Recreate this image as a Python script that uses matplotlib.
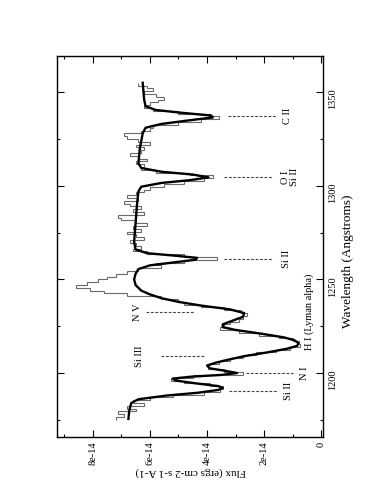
import numpy as np
import matplotlib
matplotlib.use("Agg")
import matplotlib.pyplot as plt
from matplotlib.ticker import MultipleLocator

plt.rcParams["font.family"] = ["Liberation Serif", "DejaVu Serif"]

SCALE = 1e-14

# smooth model fit (wavelength in Angstroms, flux in 1e-14 erg/cm2/s/A)
model_wave = [1175.5, 1180, 1184, 1186, 1188, 1189.5, 1191, 1192, 1193, 1194.5,
              1196, 1197, 1198, 1199, 1200, 1201, 1202.5, 1204, 1205.5, 1207,
              1209, 1211, 1213, 1214.5, 1216, 1217.5, 1219, 1221, 1223, 1224.5,
              1226, 1228, 1230, 1232, 1234, 1236, 1238, 1240, 1242, 1244,
              1247, 1250, 1253, 1255.5, 1257.5, 1259, 1260.5, 1261.5, 1262.5, 1264,
              1266, 1270, 1280, 1290, 1297, 1299.5, 1301.5, 1303, 1304.5, 1306,
              1307.5, 1309.5, 1312, 1320, 1328, 1331, 1333, 1335, 1336.5, 1337.5,
              1339, 1340.5, 1342.5, 1346, 1355]
model_flux = [6.75, 6.72, 6.65, 6.4, 5.4, 4.3, 3.6, 3.45, 3.6, 4.4,
              5.1, 5.2, 4.6, 3.5, 2.95, 3.3, 3.9, 4.0, 3.7, 3.3,
              2.7, 1.9, 1.2, 0.85, 0.8, 0.95, 1.3, 2.1, 3.0, 3.45,
              3.45, 3.1, 2.75, 2.7, 3.2, 4.2, 5.0, 5.6, 6.0, 6.3,
              6.5, 6.55, 6.5, 6.4, 6.0, 5.2, 4.4, 4.35, 5.0, 6.1,
              6.5, 6.55, 6.5, 6.45, 6.4, 6.3, 5.6, 4.6, 3.95, 4.5,
              5.6, 6.3, 6.4, 6.35, 6.25, 6.15, 5.6, 4.6, 3.8, 3.85,
              4.9, 5.8, 6.15, 6.2, 6.25]

# observed spectrum, 1.5 A bins from 1175 to 1355
obs_start, obs_stop, obs_bin = 1175.0, 1355.0, 1.5
obs_flux = [7.2, 6.9, 7.1, 6.5, 6.8, 6.2, 6.6, 6.0, 5.2, 4.1,
            3.55, 3.45, 3.9, 4.8, 5.25, 4.5, 2.75, 3.4, 3.95, 4.0,
            3.6, 3.2, 2.75, 2.3, 1.6, 1.1, 0.75, 0.8, 1.0, 1.5,
            2.2, 2.9, 3.55, 3.4, 3.2, 2.9, 2.75, 2.6, 2.8, 3.4,
            4.2, 4.8, 5.0, 5.6, 6.8, 7.6, 8.1, 8.6, 8.2, 7.8,
            7.5, 7.2, 6.8, 6.4, 5.6, 5.8, 4.8, 3.65, 4.8, 6.1,
            6.6, 6.3, 6.5, 6.7, 6.2, 6.5, 6.8, 6.3, 6.6, 6.1,
            6.5, 7.0, 7.1, 6.2, 6.6, 6.3, 6.7, 6.9, 6.4, 6.8,
            6.5, 6.2, 6.0, 5.5, 4.8, 4.1, 3.8, 4.6, 5.8, 6.3,
            6.2, 6.5, 6.1, 6.4, 6.7, 6.3, 6.2, 6.5, 6.0, 6.4,
            6.8, 6.9, 6.3, 6.0, 5.9, 5.0, 4.2, 3.6, 3.9, 5.0,
            5.9, 6.2, 6.0, 5.7, 5.5, 5.8, 6.2, 5.9, 6.1, 6.4]

# line identifications
line_names = ["C II", "O I\nSi II", "Si II", "N V", "Si III", "N I", "Si II"]
line_waves = [1337.3, 1304.5, 1261.0, 1232.6, 1209.0, 1200.0, 1190.6]
# dashed marker extent and label position (flux, 1e-14 units)
dash_from = [3.26, 3.40, 3.40, 6.12, 5.60, 2.64, 3.24]
dash_to = [1.58, 1.68, 1.68, 4.44, 4.10, 1.00, 1.52]
label_at = [1.20, 1.10, 1.22, 6.42, 6.35, 0.60, 1.15]

lya_label = "H I (Lyman alpha)"
lya_pos = (0.42, 1232.5)

flux_ticks = [0, 2, 4, 6, 8]
flux_ticklabels = ["0", "2e-14", "4e-14", "6e-14", "8e-14"]
wave_ticks = [1200, 1250, 1300, 1350]


def main() -> None:
    fig = plt.figure(figsize=(3.82, 4.94), dpi=100)
    ax = fig.add_axes([0.149, 0.116, 0.697, 0.771])

    edges = np.arange(obs_start, obs_stop + 0.01, obs_bin)
    ax.stairs(np.array(obs_flux) * SCALE, edges, orientation="horizontal",
              baseline=None, color="#6a6a6a", lw=0.8)
    ax.plot(np.array(model_flux) * SCALE, model_wave, color="black", lw=1.7)

    for name, wave, f0, f1, fl in zip(line_names, line_waves, dash_from, dash_to, label_at):
        ax.plot([f0 * SCALE, f1 * SCALE], [wave, wave], ls=(0, (2.5, 1.5)),
                color="#444444", lw=0.8)
        ax.text(fl * SCALE, wave, name, rotation=90, ha="center", va="center",
                fontsize=7.5, linespacing=1.0)
    ax.text(lya_pos[0] * SCALE, lya_pos[1], lya_label, rotation=90,
            ha="center", va="center", fontsize=7.5)

    ax.set_xlim(9.25e-14, -0.06e-14)
    ax.set_ylim(1166, 1369.4)

    ax.set_xticks([t * SCALE for t in flux_ticks])
    ax.set_xticklabels(flux_ticklabels, rotation=90)
    ax.xaxis.set_minor_locator(MultipleLocator(1e-14))
    ax.set_yticks(wave_ticks)
    ax.yaxis.set_minor_locator(MultipleLocator(25))
    ax.tick_params(axis="x", which="both", direction="in", top=True, bottom=True,
                   labelsize=7.5)
    ax.tick_params(axis="y", which="both", direction="in", left=True, right=True,
                   labelleft=False, labelright=True, labelrotation=90, labelsize=7.5)
    ax.tick_params(which="major", length=5, width=0.8)
    ax.tick_params(which="minor", length=2.5, width=0.8)
    for spine in ax.spines.values():
        spine.set_linewidth(1.0)

    fig.text(348 / 382, 1 - 261 / 494, "Wavelength (Angstroms)", rotation=90,
             ha="center", va="center", fontsize=9.5)
    fig.text(191 / 382, 1 - 472 / 494, "Flux (ergs cm-2 s-1 A-1)", rotation=180,
             ha="center", va="center", fontsize=8)

    fig.savefig("out.png", dpi=100)


if __name__ == "__main__":
    main()
